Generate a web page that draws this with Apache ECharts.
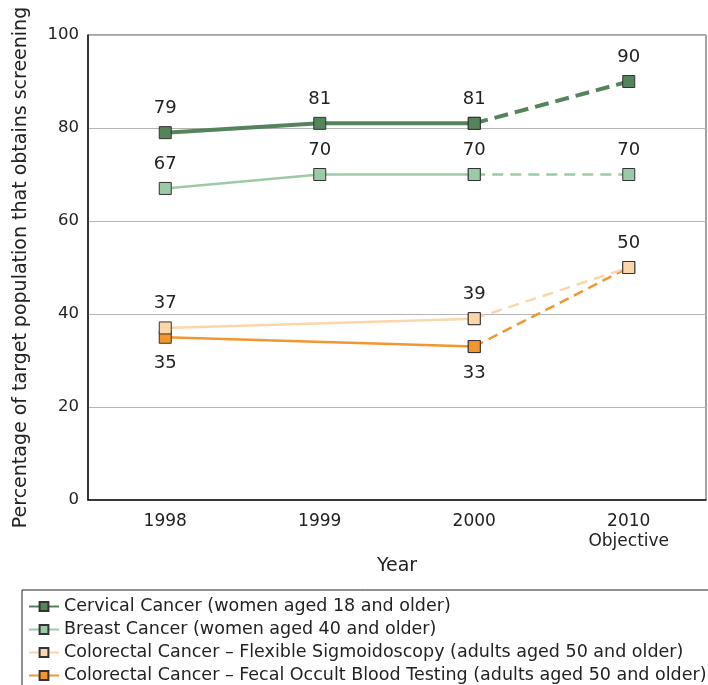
<!DOCTYPE html>
<html>
<head>
<meta charset="utf-8">
<script src="https://cdn.jsdelivr.net/npm/echarts@6/dist/echarts.min.js"></script>
<style>
  html, body { margin: 0; padding: 0; background: #fff; }
  #main { width: 708px; height: 685px; }
</style>
</head>
<body>
<div id="main"></div>
<script>
var years = ['1998', '1999', '2000', '2010\nObjective'];
var names = [
    'Cervical Cancer (women aged 18 and older)',
    'Breast Cancer (women aged 40 and older)',
    'Colorectal Cancer \u2013 Flexible Sigmoidoscopy (adults aged 50 and older)',
    'Colorectal Cancer \u2013 Fecal Occult Blood Testing (adults aged 50 and older)'
];
// measured values 1998-2000 (null = no data), then the 2010 objective
var cervical = [79, 81, 81, 90];
var breast = [67, 70, 70, 70];
var sigmo = [37, null, 39, 50];
var fobt = [35, null, 33, 50];
var colors = ['#55835c', '#9ccaa6', '#fcd6ab', '#f3962f'];
var widths = [4, 2.5, 2.5, 2.5];
var dashes = [[14, 7], [11, 7], [11, 7], [10, 6]];

var myChart = echarts.init(document.getElementById('main'));

// 实测部分（实线）
function solidPart(arr) {
    return arr.map(function (v, i) { return i < 3 ? v : null; });
}
// 2000 -> 2010 目标（虚线）
function dashPart(arr) {
    return arr.map(function (v, i) { return i >= 2 ? v : null; });
}

function makeSeries(idx, arr, labelPos, showObjLabel, z) {
    var base = {
        type: 'line',
        symbol: 'rect',
        symbolSize: 12,
        connectNulls: true,
        color: colors[idx],
        itemStyle: { color: colors[idx], borderColor: '#333', borderWidth: 1 },
        z: z
    };
    var solid = Object.assign({}, base, {
        name: names[idx],
        data: solidPart(arr),
        lineStyle: { color: colors[idx], width: widths[idx] },
        label: {
            show: true, position: labelPos, distance: labelPos === 'top' ? 9 : 11,
            fontSize: 18, color: '#222', fontFamily: 'DejaVu Sans'
        }
    });
    var dashed = Object.assign({}, base, {
        name: names[idx] + ' - objective',
        data: dashPart(arr),
        lineStyle: { color: colors[idx], width: widths[idx], type: dashes[idx] },
        label: {
            show: true, position: 'top', distance: 9,
            fontSize: 18, color: '#222', fontFamily: 'DejaVu Sans',
            formatter: function (p) { return (p.dataIndex === 3 && showObjLabel) ? p.value : ''; }
        }
    });
    return [solid, dashed];
}

var series = [].concat(
    makeSeries(0, cervical, 'top', true, 4),
    makeSeries(1, breast, 'top', true, 3),
    makeSeries(3, fobt, 'bottom', false, 2),
    makeSeries(2, sigmo, 'top', true, 3)
);

var option = {
    animation: false,
    textStyle: { fontFamily: 'DejaVu Sans' },
    grid: {
        left: 88, right: 2, top: 35, bottom: 185,
        show: true, borderColor: '#444', borderWidth: 1
    },
    legend: {
        orient: 'vertical',
        left: 22, top: 590, height: 120,
        padding: [7, 10, 4, 6],
        borderColor: '#222', borderWidth: 1,
        itemWidth: 30, itemHeight: 11, itemGap: 4,
        data: names,
        textStyle: { fontSize: 17.5, color: '#222', lineHeight: 19 }
    },
    xAxis: {
        type: 'category',
        data: years,
        boundaryGap: true,
        name: 'Year',
        nameLocation: 'middle',
        nameGap: 55,
        nameTextStyle: { fontSize: 19, color: '#222' },
        axisLine: { lineStyle: { color: '#111', width: 1.5 } },
        axisTick: { alignWithLabel: true, length: 6, lineStyle: { color: '#111' } },
        axisLabel: { fontSize: 17, color: '#222', margin: 12, lineHeight: 20 }
    },
    yAxis: {
        type: 'value',
        min: 0, max: 100, interval: 20,
        name: 'Percentage of target population that obtains screening',
        nameLocation: 'middle',
        nameGap: 57,
        nameTextStyle: { fontSize: 19, color: '#222' },
        axisLine: { show: true, lineStyle: { color: '#111', width: 1.5 } },
        axisTick: { show: false },
        axisLabel: { fontSize: 16.5, color: '#222', margin: 9 },
        splitLine: { lineStyle: { color: '#b5b5b5', width: 1 } }
    },
    series: series
};
myChart.setOption(option, true);
</script>
</body>
</html>
